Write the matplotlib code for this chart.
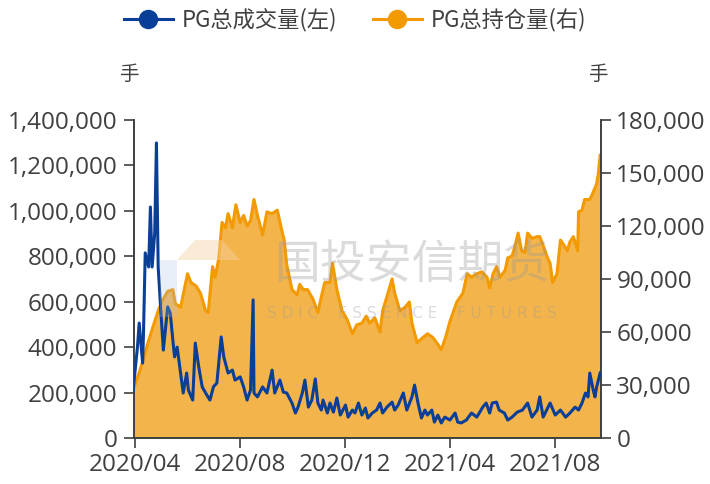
import matplotlib
matplotlib.use("Agg")
import matplotlib.pyplot as plt
import matplotlib.dates as mdates
import matplotlib.ticker as mticker
from matplotlib.lines import Line2D
from matplotlib.patches import Rectangle, Polygon
import pandas as pd

# ---------------- data ----------------
oi_dates = ["2020-03-30","2020-04-08","2020-04-15","2020-04-22","2020-04-28","2020-05-03","2020-05-09",
            "2020-05-15","2020-05-18","2020-05-24","2020-06-01","2020-06-05","2020-06-11","2020-06-16",
            "2020-06-22","2020-06-25","2020-06-30","2020-07-03","2020-07-07","2020-07-11","2020-07-15",
            "2020-07-18","2020-07-23","2020-07-27","2020-08-01","2020-08-05","2020-08-09","2020-08-13",
            "2020-08-17","2020-08-21","2020-08-27","2020-09-01","2020-09-07","2020-09-13","2020-09-18",
            "2020-09-21","2020-09-24","2020-09-30","2020-10-06","2020-10-09","2020-10-13","2020-10-18",
            "2020-10-24","2020-10-30","2020-11-04","2020-11-07","2020-11-13","2020-11-16","2020-11-21",
            "2020-11-27","2020-12-03","2020-12-09","2020-12-14","2020-12-20","2020-12-25","2020-12-29",
            "2021-01-04","2021-01-10","2021-01-13","2021-01-18","2021-01-24","2021-01-27","2021-02-02",
            "2021-02-08","2021-02-13","2021-02-16","2021-02-22","2021-03-01","2021-03-06","2021-03-12",
            "2021-03-18","2021-03-22","2021-03-27","2021-04-01","2021-04-09","2021-04-16","2021-04-21",
            "2021-04-26","2021-05-02","2021-05-08","2021-05-14","2021-05-17","2021-05-21","2021-05-25",
            "2021-05-29","2021-06-04","2021-06-07","2021-06-12","2021-06-15","2021-06-19","2021-06-23",
            "2021-06-27","2021-06-30","2021-07-05","2021-07-11","2021-07-14","2021-07-18","2021-07-23",
            "2021-07-26","2021-07-29","2021-08-03","2021-08-07","2021-08-10","2021-08-15","2021-08-18",
            "2021-08-22","2021-08-27","2021-08-28","2021-09-01","2021-09-04","2021-09-10","2021-09-13",
            "2021-09-18","2021-09-20","2021-09-22"]
oi_values = [27000, 40000, 52000, 63000, 72000, 78000, 83000,
             84000, 76000, 74000, 93000, 88000, 86000, 82000,
             72000, 71000, 97000, 91000, 101000, 122000, 119000,
             127000, 119000, 132000, 122000, 126000, 120000, 123000,
             135000, 126000, 115000, 128000, 127000, 129000, 118000,
             112000, 98000, 84000, 81000, 87000, 84000, 84000,
             79000, 71000, 82000, 88000, 88000, 99000, 84000,
             72000, 67000, 59000, 64000, 65000, 69000, 65000,
             68000, 60000, 72000, 80000, 90000, 82000, 72000,
             74000, 77000, 65000, 54000, 57000, 59000, 57000,
             53000, 50000, 57000, 66000, 77000, 82000, 93000,
             91000, 93000, 94000, 91000, 85000, 93000, 97000,
             91000, 95000, 102000, 103000, 108000, 116000, 106000,
             105000, 116000, 113000, 114000, 114000, 109000, 102000,
             99000, 88000, 93000, 112000, 110000, 106000, 111000,
             114000, 106000, 128000, 129000, 135000, 135000, 138000,
             144000, 150000, 160000]

vol_dates = ["2020-03-30","2020-04-04","2020-04-06","2020-04-10","2020-04-11","2020-04-13","2020-04-17",
             "2020-04-19","2020-04-21","2020-04-24","2020-04-26","2020-04-28","2020-05-01","2020-05-04",
             "2020-05-09","2020-05-12","2020-05-15","2020-05-17","2020-05-20","2020-05-24","2020-05-27",
             "2020-05-31","2020-06-02","2020-06-07","2020-06-10","2020-06-14","2020-06-18","2020-06-22",
             "2020-06-27","2020-07-01","2020-07-05","2020-07-10","2020-07-13","2020-07-18","2020-07-23",
             "2020-07-26","2020-08-01","2020-08-05","2020-08-09","2020-08-13","2020-08-16","2020-08-17",
             "2020-08-21","2020-08-27","2020-09-01","2020-09-07","2020-09-10","2020-09-16","2020-09-20",
             "2020-09-24","2020-09-30","2020-10-04","2020-10-07","2020-10-12","2020-10-15","2020-10-19",
             "2020-10-23","2020-10-27","2020-10-30","2020-11-03","2020-11-05","2020-11-10","2020-11-13",
             "2020-11-17","2020-11-21","2020-11-25","2020-12-01","2020-12-04","2020-12-09","2020-12-12",
             "2020-12-16","2020-12-20","2020-12-24","2020-12-27","2021-01-01","2021-01-06","2021-01-10",
             "2021-01-13","2021-01-18","2021-01-24","2021-01-27","2021-01-31","2021-02-06","2021-02-10",
             "2021-02-16","2021-02-19","2021-02-23","2021-02-27","2021-03-03","2021-03-06","2021-03-11",
             "2021-03-14","2021-03-18","2021-03-22","2021-03-26","2021-04-01","2021-04-07","2021-04-10",
             "2021-04-14","2021-04-20","2021-04-26","2021-05-02","2021-05-05","2021-05-09","2021-05-13",
             "2021-05-17","2021-05-20","2021-05-25","2021-05-28","2021-06-03","2021-06-07","2021-06-12",
             "2021-06-18","2021-06-24","2021-06-30","2021-07-05","2021-07-11","2021-07-14","2021-07-18",
             "2021-07-26","2021-08-01","2021-08-07","2021-08-13","2021-08-18","2021-08-24","2021-08-28",
             "2021-09-01","2021-09-05","2021-09-08","2021-09-10","2021-09-14","2021-09-16","2021-09-18",
             "2021-09-22"]
vol_values = [211000, 400000, 506000, 330000, 462000, 815000, 753000,
              1017000, 753000, 902000, 1299000, 753000, 564000, 387000,
              577000, 550000, 431000, 357000, 400000, 286000, 198000,
              286000, 211000, 167000, 418000, 313000, 225000, 198000,
              167000, 225000, 242000, 445000, 357000, 286000, 299000,
              255000, 269000, 225000, 167000, 211000, 608000, 198000,
              181000, 225000, 198000, 299000, 198000, 255000, 202000,
              198000, 154000, 110000, 136000, 198000, 255000, 136000,
              167000, 260000, 154000, 123000, 167000, 110000, 154000,
              114000, 176000, 101000, 145000, 92000, 123000, 110000,
              154000, 101000, 132000, 88000, 110000, 123000, 154000,
              110000, 136000, 158000, 123000, 145000, 198000, 123000,
              181000, 233000, 154000, 88000, 123000, 101000, 123000,
              70000, 101000, 66000, 92000, 79000, 110000, 70000,
              66000, 79000, 110000, 92000, 110000, 136000, 154000,
              110000, 154000, 158000, 123000, 110000, 79000, 92000,
              114000, 123000, 154000, 92000, 123000, 181000, 92000,
              154000, 101000, 123000, 92000, 110000, 136000, 123000,
              154000, 198000, 181000, 286000, 211000, 181000, 225000,
              286000]

series_names = ["PG总成交量(左)", "PG总持仓量(右)"]
unit_label = "手"
left_ticks = [0, 200000, 400000, 600000, 800000, 1000000, 1200000, 1400000]
right_ticks = [0, 30000, 60000, 90000, 120000, 150000, 180000]
x_tick_dates = ["2020-04-01", "2020-08-01", "2020-12-01", "2021-04-01", "2021-08-01"]

# ---------------- style ----------------
BLUE = "#0a3f98"
ORANGE = "#f39a00"
FILL = "#f4b44c"
TXT = "#404040"
AX = "#404040"

cjk = ["Noto Sans CJK SC", "DejaVu Sans"]
num_font = "Open Sans"
W, H = 710, 484

fig = plt.figure(figsize=(W / 100, H / 100), dpi=100)
ax1 = fig.add_axes([134 / W, 1 - 438 / H, (601 - 134) / W, (438 - 120) / H])
ax2 = ax1.twinx()

od = pd.to_datetime(oi_dates)
vd = pd.to_datetime(vol_dates)

ax2.fill_between(od, oi_values, 0, color=FILL, lw=0, zorder=1)
ax2.plot(od, oi_values, color=ORANGE, lw=2.2, zorder=2)
ax1.plot(vd, vol_values, color=BLUE, lw=2.2, zorder=3)

ax1.set_zorder(ax2.get_zorder() + 1)
ax1.patch.set_visible(False)

ax1.set_ylim(0, 1400000)
ax2.set_ylim(0, 180000)
ax1.set_xlim(pd.Timestamp("2020-03-31"), pd.Timestamp("2021-09-23"))

ax1.set_yticks(left_ticks)
ax2.set_yticks(right_ticks)
fmt = mticker.FuncFormatter(lambda v, p: f"{int(v):,}")
ax1.yaxis.set_major_formatter(fmt)
ax2.yaxis.set_major_formatter(fmt)
ax1.set_xticks(pd.to_datetime(x_tick_dates))
ax1.xaxis.set_major_formatter(mdates.DateFormatter("%Y/%m"))

for a in (ax1, ax2):
    for s in a.spines.values():
        s.set_color(AX)
        s.set_linewidth(1.2)
    a.spines["top"].set_visible(False)
    a.tick_params(colors=AX, width=1.2, length=7, labelcolor=TXT, labelsize=17.5)
    for lab in a.get_yticklabels() + a.get_xticklabels():
        lab.set_fontfamily(num_font)
ax1.tick_params(axis="y", pad=5)
ax2.tick_params(axis="y", pad=4)
ax1.tick_params(axis="x", pad=4)

# unit labels
fig.text(129 / W, 1 - 75 / H, unit_label, ha="center", va="center",
         fontsize=14, color=TXT, family=cjk)
fig.text(598 / W, 1 - 75 / H, unit_label, ha="center", va="center",
         fontsize=14, color=TXT, family=cjk)

# watermark (faint logo + text)
fig.patches.append(Rectangle((160 / W, 1 - 317 / H), 17 / W, 57 / H, transform=fig.transFigure,
                             facecolor="#a9c1e6", alpha=0.25, lw=0, zorder=5))
fig.patches.append(Polygon([(177 / W, 1 - 260 / H), (240 / W, 1 - 260 / H), (222 / W, 1 - 240 / H),
                            (195 / W, 1 - 240 / H)], closed=True, transform=fig.transFigure,
                           facecolor="#f6d3a4", alpha=0.45, lw=0, zorder=5))
fig.text(412 / W, 1 - 265 / H, "国投安信期货", ha="center", va="center",
         fontsize=33, color="#9a9a9a", alpha=0.35, family=cjk, zorder=6)
fig.text(412 / W, 1 - 313 / H, "S D I C    E S S E N C E    F U T U R E S", ha="center", va="center",
         fontsize=11, color="#9a9a9a", alpha=0.35, family="DejaVu Sans", zorder=6)

# legend
handles = [Line2D([], [], color=BLUE, lw=2.2, marker="o", markersize=13),
           Line2D([], [], color=ORANGE, lw=2.2, marker="o", markersize=13)]
fig.legend(handles, series_names, loc="center", bbox_to_anchor=(0.5, 1 - 20 / H),
           ncol=2, frameon=False, prop={"family": cjk, "size": 16}, labelcolor=TXT,
           handlelength=2.2, columnspacing=1.6, handletextpad=0.4)

fig.savefig("out.png", dpi=100)
